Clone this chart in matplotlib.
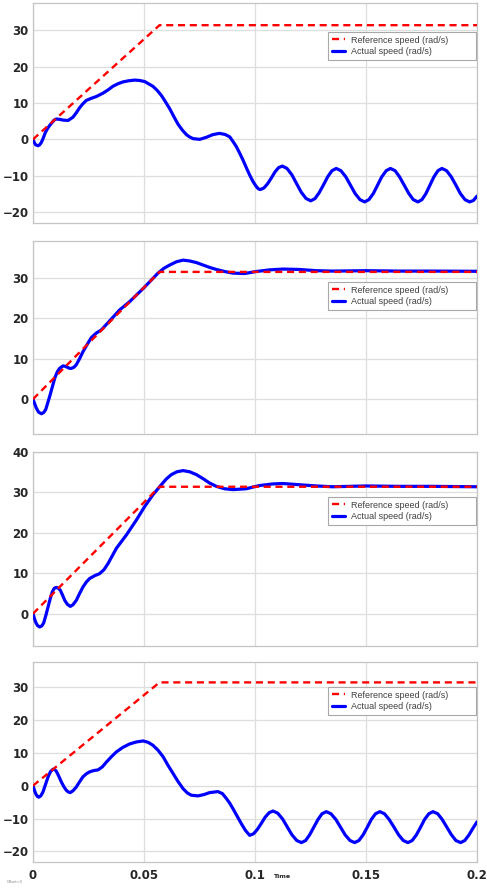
import matplotlib
matplotlib.use('Agg')
import matplotlib.pyplot as plt

# reference speed (same in all four panels)
t_ref = [0.0, 0.057, 0.2]
w_ref = [0.0, 31.4, 31.4]

# panel 1 - actual speed
t1 = [0.0, 0.0006, 0.0012, 0.00225, 0.003, 0.0038, 0.0046, 0.0053, 0.006, 0.0068, 0.0076,
      0.0083, 0.0095, 0.0105, 0.012, 0.0135, 0.0158, 0.018, 0.0195, 0.021, 0.0225, 0.024,
      0.0263, 0.0286, 0.0315, 0.0338, 0.036, 0.0383, 0.0405, 0.043, 0.0458, 0.048, 0.0503,
      0.054, 0.0559, 0.0578, 0.0597, 0.0616, 0.0635, 0.0653, 0.0672, 0.0691, 0.0706, 0.0721,
      0.0751, 0.078, 0.081, 0.084, 0.0865, 0.0886,
      0.0901, 0.0916, 0.0931, 0.0946, 0.0961, 0.0976, 0.0991, 0.1006, 0.1015, 0.1024,
      0.1040, 0.1057, 0.1074, 0.1090, 0.1106, 0.1123,
      0.1144, 0.1166, 0.1187, 0.1208, 0.1230, 0.1251,
      0.1270, 0.1289, 0.1309, 0.1328, 0.1347, 0.1366,
      0.1387, 0.1409, 0.1430, 0.1451, 0.1473, 0.1494,
      0.1513, 0.1533, 0.1552, 0.1571, 0.1591, 0.1610,
      0.1631, 0.1651, 0.1672, 0.1693, 0.1713, 0.1734,
      0.1752, 0.1770, 0.1788, 0.1806, 0.1824, 0.1842,
      0.1863, 0.1884, 0.1905, 0.1925, 0.1946, 0.1967,
      0.1984, 0.2]
w1 = [0.0, -0.9, -1.5, -1.75, -1.5, -0.8, 0.3, 1.5, 2.4, 3.2, 3.9,
      4.4, 5.3, 5.6, 5.5, 5.3, 5.2, 6.1, 7.3, 8.7, 9.8, 10.7,
      11.3, 11.8, 12.7, 13.6, 14.6, 15.3, 15.8, 16.1, 16.3, 16.2, 15.9,
      14.6, 13.5, 12.1, 10.3, 8.4, 6.2, 4.2, 2.6, 1.3, 0.65, 0.2,
      0.0, 0.55, 1.3, 1.65, 1.35, 0.7,
      -0.6, -2.0, -3.8, -5.7, -7.8, -9.8, -11.6, -13.0, -13.6, -13.8,
      -13.37, -12.19, -10.58, -8.96, -7.78, -7.35,
      -7.99, -9.74, -12.13, -14.51, -16.26, -16.9,
      -16.30, -14.68, -12.45, -10.23, -8.60, -8.0,
      -8.62, -10.3, -12.6, -14.9, -16.58, -17.2,
      -16.58, -14.9, -12.6, -10.3, -8.62, -8.0,
      -8.62, -10.3, -12.6, -14.9, -16.58, -17.2,
      -16.58, -14.9, -12.6, -10.3, -8.62, -8.0,
      -8.62, -10.3, -12.6, -14.9, -16.58, -17.2,
      -16.8, -15.6]

# panel 2 - actual speed
t2 = [0.0, 0.0008, 0.0015, 0.0025, 0.0038, 0.0048, 0.0057, 0.0066, 0.0075, 0.0087, 0.0098,
      0.011, 0.012, 0.0135, 0.0145, 0.0153, 0.0165, 0.0173, 0.0185, 0.0195, 0.021, 0.0225,
      0.0245, 0.0263, 0.0285, 0.0308, 0.0345, 0.039, 0.0436, 0.05, 0.0563, 0.059, 0.0616,
      0.0646, 0.0676, 0.0706, 0.0736, 0.0766, 0.0796, 0.0826, 0.0863, 0.09, 0.0953, 0.1006,
      0.1066, 0.1126, 0.12, 0.1276, 0.135, 0.15, 0.165, 0.18, 0.2]
w2 = [0.0, -1.2, -2.2, -3.2, -3.6, -3.3, -2.6, -1.0, 0.66, 3.0, 5.2,
      6.8, 7.6, 8.2, 8.1, 7.9, 7.6, 7.6, 7.9, 8.5, 10.0, 11.7,
      13.6, 15.2, 16.3, 17.1, 19.3, 22.0, 24.1, 27.5, 31.1, 32.3, 33.1,
      33.9, 34.3, 34.1, 33.7, 33.1, 32.5, 32.0, 31.5, 31.1, 31.0, 31.5,
      31.9, 32.1, 32.0, 31.7, 31.6, 31.7, 31.6, 31.6, 31.55]

# panel 3 - actual speed
t3 = [0.0, 0.0006, 0.0012, 0.002, 0.003, 0.004, 0.0048, 0.0058, 0.0068, 0.0078, 0.0087,
      0.0096, 0.0105, 0.0114, 0.0123, 0.0133, 0.0143, 0.0155, 0.0168, 0.018, 0.0195, 0.021,
      0.0225, 0.024, 0.0255, 0.0278, 0.03, 0.032, 0.0338, 0.0357, 0.0376, 0.0421, 0.0466,
      0.0503, 0.054, 0.0578, 0.06, 0.0623, 0.0648, 0.0676, 0.0706, 0.0736, 0.0766, 0.0796,
      0.0826, 0.0863, 0.09, 0.096, 0.102, 0.108, 0.1126, 0.12, 0.1276, 0.135, 0.15, 0.165,
      0.18, 0.2]
w3 = [0.0, -1.1, -2.1, -2.9, -3.3, -3.0, -2.3, -0.4, 1.7, 3.8, 5.4,
      6.3, 6.5, 6.3, 5.8, 4.6, 3.3, 2.3, 1.8, 2.2, 3.3, 5.0,
      6.6, 7.8, 8.7, 9.4, 9.9, 10.9, 12.4, 14.3, 16.2, 19.5, 23.2,
      26.5, 29.4, 31.9, 33.3, 34.4, 35.1, 35.4, 35.1, 34.4, 33.4, 32.3,
      31.5, 30.9, 30.7, 30.9, 31.7, 32.1, 32.2, 31.9, 31.6, 31.4, 31.6, 31.5,
      31.5, 31.4]

# panel 4 - actual speed
t4 = [0.0, 0.0006, 0.0012, 0.0019, 0.0026, 0.0035, 0.0045, 0.0056, 0.0068, 0.0079, 0.009,
      0.0098, 0.0105, 0.0116, 0.0128, 0.0139, 0.015, 0.0159, 0.0168, 0.0181, 0.0195, 0.021,
      0.0225, 0.024, 0.0255, 0.0274, 0.0293, 0.0312, 0.0331, 0.0353, 0.0376, 0.0406, 0.0436,
      0.0466, 0.0496, 0.0518, 0.054, 0.0563, 0.0586, 0.0608, 0.0631, 0.0653, 0.0676, 0.0695,
      0.0713, 0.0743, 0.077, 0.0796, 0.0833, 0.0853, 0.0871, 0.0886, 0.09, 0.0919, 0.0938,
      0.0957, 0.0976,
      0.0994, 0.1011, 0.1029, 0.1046, 0.1064, 0.1081,
      0.1102, 0.1124, 0.1145, 0.1166, 0.1188, 0.1209,
      0.1228, 0.1246, 0.1265, 0.1284, 0.1302, 0.1321,
      0.1342, 0.1364, 0.1385, 0.1406, 0.1428, 0.1449,
      0.1468, 0.1487, 0.1506, 0.1524, 0.1543, 0.1562,
      0.1583, 0.1604, 0.1626, 0.1647, 0.1668, 0.1689,
      0.1708, 0.1727, 0.1746, 0.1764, 0.1783, 0.1802,
      0.1823, 0.1843, 0.1864, 0.1885, 0.1905, 0.1926,
      0.1945, 0.1964, 0.1982, 0.2]
w4 = [0.0, -1.3, -2.4, -3.2, -3.5, -3.1, -1.9, 0.3, 2.7, 4.3, 5.0,
      4.9, 4.4, 2.9, 1.1, -0.3, -1.4, -1.9, -2.1, -1.5, -0.4, 1.2,
      2.7, 3.6, 4.2, 4.6, 4.8, 5.7, 7.2, 8.8, 10.3, 11.7, 12.7,
      13.3, 13.6, 13.2, 12.3, 10.8, 8.8, 6.2, 3.7, 1.3, -0.9, -2.2,
      -2.9, -3.1, -2.7, -2.1, -1.8, -2.4, -3.9, -5.3, -6.9, -9.2, -11.5,
      -13.6, -15.1,
      -14.6, -13.25, -11.4, -9.55, -8.2, -7.7,
      -8.34, -10.1, -12.5, -14.9, -16.66, -17.3,
      -16.67, -14.95, -12.6, -10.25, -8.53, -7.9,
      -8.53, -10.25, -12.6, -14.95, -16.67, -17.3,
      -16.67, -14.95, -12.6, -10.25, -8.53, -7.9,
      -8.53, -10.25, -12.6, -14.95, -16.67, -17.3,
      -16.67, -14.95, -12.6, -10.25, -8.53, -7.9,
      -8.53, -10.25, -12.6, -14.95, -16.67, -17.3,
      -16.67, -14.95, -12.9, -11.0]

panels = [(t1, w1), (t2, w2), (t3, w3), (t4, w4)]
y_limits = [(-23, 37.5), (-8.6, 39.1), (-8, 40), (-23.2, 37.6)]
y_ticks = [[-20, -10, 0, 10, 20, 30], [0, 10, 20, 30], [0, 10, 20, 30, 40],
           [-20, -10, 0, 10, 20, 30]]
x_ticks = [0, 0.05, 0.1, 0.15, 0.2]
x_ticklabels = ['0', '0.05', '0.1', '0.15', '0.2']

# axes boxes in pixels: (top, bottom)
W, H = 487, 888
boxes = [(3, 223), (240.7, 434), (452, 646), (662, 862)]
legend_top = [32, 282, 497, 687]

fig = plt.figure(figsize=(W / 100, H / 100), dpi=100)

for i, ((t, w), (top, bot)) in enumerate(zip(panels, boxes)):
    ax = fig.add_axes([33 / W, 1 - bot / H, 444 / W, (bot - top) / H])
    l_act, = ax.plot(t, w, color='#0000ff', lw=2.3, zorder=3,
                     solid_joinstyle='round', solid_capstyle='round')
    l_ref, = ax.plot(t_ref, w_ref, color='#ff0000', lw=1.7, ls=(0, (3, 2)), zorder=4)
    ax.set_xlim(0, 0.2)
    ax.set_ylim(*y_limits[i])
    ax.set_xticks(x_ticks)
    ax.set_yticks(y_ticks[i])
    if i == 3:
        ax.set_xticklabels(x_ticklabels)
    else:
        ax.set_xticklabels([])
    ax.grid(True, color='#dedede', lw=0.9)
    ax.set_axisbelow(True)
    for s in ax.spines.values():
        s.set_color('#c4c4c4')
        s.set_linewidth(0.9)
    ax.tick_params(length=0, labelsize=8.5, labelcolor='#262626', pad=3)
    ax.tick_params(axis='x', pad=5)
    for lab in ax.get_xticklabels() + ax.get_yticklabels():
        lab.set_fontweight('bold')
        lab.set_family('DejaVu Sans')
    ly = 1 - (legend_top[i] - top) / (bot - top)
    leg = ax.legend([l_ref, l_act], ['Reference speed (rad/s)', 'Actual speed (rad/s)'],
                    loc='upper left', bbox_to_anchor=((328 - 33) / 444, ly, 148 / 444, 0),
                    mode='expand', borderaxespad=0,
                    fancybox=False, framealpha=1, edgecolor='#a8a8a8',
                    prop={'family': 'Liberation Sans', 'size': 6.5},
                    handlelength=1.45, handletextpad=0.7, borderpad=0.4,
                    labelspacing=0.3, labelcolor='#404040')
    leg.get_frame().set_linewidth(0.8)

fig.text(282 / W, 1 - 876 / H, 'Time', fontsize=4.5, fontweight='bold', color='#262626',
         ha='center', va='center')
fig.text(15 / W, 1 - 882 / H, 'Offset=0', fontsize=2.5, color='#808080',
         ha='center', va='center')

fig.savefig('out.png', dpi=100, facecolor='white')
